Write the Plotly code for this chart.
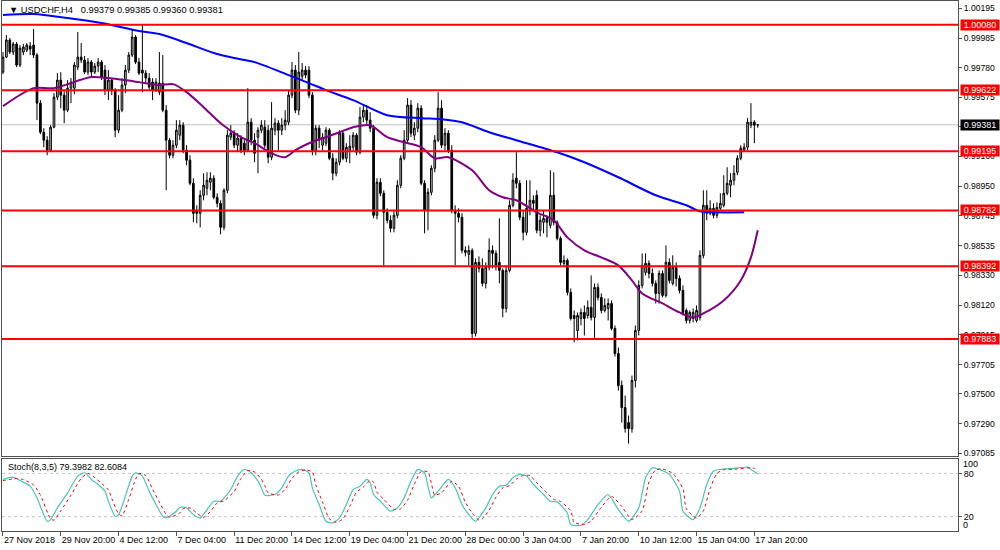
import plotly.graph_objects as go

# ---------------- DATA (USDCHF H4) ----------------
opens = [
0.99749,0.99854,0.99973,0.99889,0.99945,0.99798,0.99889,0.99903,0.99931,0.99938,
0.99868,0.99532,0.99329,0.99273,0.99203,0.99364,0.99574,0.99693,0.99588,0.99483,
0.99637,0.99637,0.99784,0.99854,0.99833,0.99749,0.99819,0.99749,0.99791,0.99819,
0.99763,0.99623,0.99693,0.99623,0.99343,0.99483,0.99658,0.99763,0.99868,0.99994,
0.99819,0.99763,0.99742,0.99707,0.99679,0.99623,0.99609,0.99672,0.99483,0.99273,
0.99168,0.99238,0.99308,0.99378,0.99203,0.99133,0.98972,0.98783,0.98762,0.98888,
0.98937,0.98979,0.99007,0.98874,0.98832,0.98664,0.98923,0.99294,0.99322,0.99238,
0.99287,0.99252,0.99203,0.99399,0.99273,0.99294,0.99343,0.99364,0.99343,0.99154,
0.99343,0.99392,0.99343,0.99378,0.99399,0.99588,0.99763,0.99483,0.99721,0.99763,
0.99763,0.99588,0.99203,0.99357,0.99238,0.99252,0.99343,0.99147,0.99042,0.99119,
0.99322,0.99147,0.99203,0.99224,0.99308,0.99189,0.99434,0.99483,0.99413,0.99357,
0.98748,0.98979,0.98902,0.98769,0.98713,0.98657,0.98748,0.98958,0.99147,0.99273,
0.99518,0.99308,0.99357,0.99497,0.98972,0.98783,0.98909,0.99077,0.99273,0.99497,
0.99238,0.99322,0.99203,0.98783,0.98762,0.98734,0.98503,0.98475,0.98503,0.97922,
0.98419,0.98377,0.98272,0.98384,0.98503,0.98482,0.98419,0.98363,0.98097,0.98363,
0.98818,0.99007,0.98972,0.98734,0.98629,0.98797,0.98853,0.98888,0.98643,0.98699,
0.98727,0.98678,0.98888,0.98699,0.98587,0.98412,0.98433,0.98209,0.98048,0.97943,
0.98027,0.98069,0.98048,0.98104,0.98034,0.98244,0.98174,0.98083,0.98097,0.98132,
0.97957,0.97782,0.97558,0.97404,0.97299,0.97257,0.97593,0.97943,0.98258,0.98349,
0.98412,0.98342,0.98272,0.98202,0.98342,0.98188,0.98419,0.98272,0.98384,0.98307,
0.98223,0.98083,0.98013,0.98027,0.98013,0.98034,0.98468,0.98818,0.98762,0.98797,
0.98748,0.98797,0.98818,0.98902,0.98958,0.98993,0.99049,0.99147,0.99203,0.99224,
0.99378,0.99399,0.99379]

highs = [
0.99889,1.00008,0.99987,0.99959,0.99959,0.99938,0.99945,0.99952,0.99959,1.00050,
0.99882,0.99553,0.99357,0.99301,0.99378,0.99602,0.99742,0.99749,0.99623,0.99693,
0.99707,0.99819,1.00029,0.99952,0.99861,0.99847,0.99833,0.99812,0.99847,0.99833,
0.99798,0.99763,0.99707,0.99637,0.99588,0.99707,0.99798,0.99889,1.00043,1.00008,
0.99847,1.00078,0.99763,0.99742,0.99707,0.99707,0.99889,0.99868,0.99518,0.99287,
0.99273,0.99413,0.99413,0.99399,0.99238,0.99168,0.99007,0.98818,0.98923,0.99042,
0.99049,0.99049,0.99028,0.98902,0.98853,0.98937,0.99343,0.99378,0.99343,0.99322,
0.99308,0.99273,0.99637,0.99427,0.99322,0.99364,0.99413,0.99413,0.99378,0.99539,
0.99427,0.99413,0.99427,0.99483,0.99623,0.99819,0.99798,0.99889,0.99812,0.99791,
0.99791,0.99609,0.99378,0.99378,0.99322,0.99364,0.99357,0.99182,0.99147,0.99343,
0.99343,0.99252,0.99308,0.99329,0.99322,0.99504,0.99518,0.99518,0.99469,0.99378,
0.99007,0.99007,0.98923,0.98797,0.98748,0.98783,0.98993,0.99168,0.99343,0.99567,
0.99553,0.99399,0.99532,0.99518,0.98993,0.98937,0.99098,0.99308,0.99609,0.99553,
0.99357,0.99343,0.99238,0.98818,0.98797,0.98762,0.98531,0.98538,0.98517,0.98447,
0.98461,0.98447,0.98419,0.98587,0.98538,0.98503,0.98727,0.98377,0.98398,0.98853,
0.99042,0.99189,0.98993,0.98783,0.98993,0.98993,0.98888,0.98923,0.98748,0.98783,
0.98748,0.99063,0.99049,0.98713,0.98601,0.98468,0.98447,0.98237,0.98083,0.98069,
0.98097,0.98118,0.98153,0.98328,0.98272,0.98272,0.98202,0.98167,0.98167,0.98153,
0.97978,0.97824,0.97593,0.97488,0.97348,0.97628,0.97978,0.98293,0.98482,0.98482,
0.98433,0.98377,0.98293,0.98363,0.98363,0.98538,0.98447,0.98468,0.98419,0.98328,
0.98258,0.98097,0.98083,0.98097,0.98118,0.98503,0.98923,0.98923,0.98853,0.98832,
0.98839,0.98902,0.99028,0.99084,0.99042,0.99098,0.99168,0.99238,0.99252,0.99427,
0.99532,0.99413,0.99385]

lows = [
0.99735,0.99847,0.99875,0.99868,0.99784,0.99784,0.99868,0.99889,0.99868,0.99847,
0.99413,0.99315,0.99224,0.99168,0.99189,0.99357,0.99553,0.99497,0.99392,0.99469,
0.99532,0.99595,0.99763,0.99812,0.99735,0.99728,0.99721,0.99735,0.99749,0.99693,
0.99588,0.99553,0.99588,0.99294,0.99322,0.99469,0.99602,0.99742,0.99854,0.99805,
0.99728,0.99609,0.99679,0.99630,0.99553,0.99609,0.99588,0.99469,0.98923,0.99147,
0.99147,0.99217,0.99273,0.99182,0.99098,0.98958,0.98699,0.98692,0.98664,0.98853,
0.98888,0.98923,0.98860,0.98804,0.98615,0.98643,0.98902,0.99273,0.99217,0.99189,
0.99182,0.99168,0.99189,0.99238,0.99119,0.99042,0.99322,0.99217,0.99112,0.99133,
0.99308,0.99203,0.99308,0.99343,0.99378,0.99567,0.99462,0.99448,0.99693,0.99707,
0.99567,0.99168,0.99168,0.99217,0.99203,0.99231,0.99133,0.98993,0.99021,0.99098,
0.99133,0.99119,0.99112,0.99203,0.99168,0.99175,0.99399,0.99378,0.99329,0.98727,
0.98720,0.98881,0.98398,0.98692,0.98629,0.98629,0.98727,0.98937,0.99133,0.99259,
0.99294,0.99273,0.99329,0.98958,0.98622,0.98643,0.98888,0.99049,0.99259,0.99217,
0.99203,0.99182,0.98762,0.98398,0.98699,0.98482,0.98461,0.98398,0.97887,0.97901,
0.98349,0.98251,0.98237,0.98363,0.98377,0.98363,0.98272,0.98034,0.98069,0.98349,
0.98804,0.98937,0.98713,0.98573,0.98608,0.98748,0.98783,0.98622,0.98601,0.98622,
0.98594,0.98657,0.98678,0.98573,0.98398,0.98391,0.98188,0.98013,0.97859,0.97873,
0.97978,0.97908,0.98027,0.98013,0.97887,0.98153,0.98062,0.98069,0.98013,0.97943,
0.97761,0.97523,0.97299,0.97229,0.97152,0.97229,0.97544,0.97908,0.98237,0.98328,
0.98307,0.98251,0.98132,0.98132,0.98174,0.98174,0.98272,0.98258,0.98251,0.98202,
0.98048,0.97992,0.97992,0.97999,0.97999,0.98013,0.98447,0.98713,0.98748,0.98727,
0.98727,0.98783,0.98804,0.98888,0.98874,0.98958,0.99028,0.99133,0.99189,0.99203,
0.99357,0.99252,0.99360]

closes = [
0.99854,0.99973,0.99889,0.99945,0.99798,0.99917,0.99924,0.99938,0.99910,0.99868,
0.99532,0.99329,0.99273,0.99203,0.99364,0.99574,0.99693,0.99588,0.99483,0.99637,
0.99679,0.99798,0.99854,0.99833,0.99749,0.99819,0.99749,0.99791,0.99819,0.99714,
0.99623,0.99693,0.99623,0.99343,0.99483,0.99658,0.99763,0.99868,0.99994,0.99819,
0.99742,0.99742,0.99707,0.99644,0.99623,0.99679,0.99672,0.99483,0.99273,0.99168,
0.99238,0.99343,0.99378,0.99203,0.99133,0.98972,0.98762,0.98762,0.98888,0.98958,
0.98993,0.99007,0.98874,0.98832,0.98664,0.98923,0.99308,0.99322,0.99238,0.99287,
0.99203,0.99203,0.99399,0.99273,0.99182,0.99343,0.99378,0.99238,0.99154,0.99357,
0.99392,0.99343,0.99378,0.99413,0.99588,0.99763,0.99483,0.99749,0.99763,0.99728,
0.99588,0.99203,0.99357,0.99273,0.99294,0.99343,0.99147,0.99042,0.99119,0.99322,
0.99147,0.99224,0.99231,0.99308,0.99189,0.99434,0.99483,0.99413,0.99357,0.98748,
0.98979,0.98902,0.98769,0.98713,0.98657,0.98748,0.98958,0.99147,0.99273,0.99518,
0.99322,0.99357,0.99497,0.98972,0.98783,0.98909,0.99077,0.99273,0.99497,0.99238,
0.99322,0.99203,0.98783,0.98762,0.98734,0.98503,0.98489,0.98503,0.97922,0.98419,
0.98377,0.98272,0.98384,0.98503,0.98482,0.98398,0.98363,0.98097,0.98363,0.98818,
0.98993,0.98972,0.98734,0.98629,0.98797,0.98853,0.98832,0.98643,0.98713,0.98727,
0.98699,0.98888,0.98699,0.98587,0.98419,0.98433,0.98209,0.98027,0.98027,0.98048,
0.98069,0.98027,0.98104,0.98034,0.98244,0.98174,0.98083,0.98118,0.98132,0.97957,
0.97782,0.97558,0.97404,0.97257,0.97257,0.97593,0.97943,0.98258,0.98398,0.98412,
0.98342,0.98272,0.98202,0.98342,0.98188,0.98419,0.98293,0.98384,0.98307,0.98223,
0.98069,0.98013,0.98069,0.98069,0.98083,0.98468,0.98818,0.98762,0.98797,0.98748,
0.98804,0.98832,0.98902,0.98972,0.98993,0.99042,0.99147,0.99217,0.99224,0.99399,
0.99399,0.99378,0.99381]

# moving averages (at selected bars)
ma_blue_bar = [0, 9, 19, 29, 40, 46, 54, 62, 68, 74, 84, 90, 95, 103, 113, 123, 129, 135,
               143, 151, 163, 171, 181, 192, 201, 205, 210, 218]
ma_blue = [1.00148, 1.00155, 1.00127, 1.00092, 1.00036, 1.00015, 0.99952, 0.99882, 0.99847,
           0.99819, 0.99728, 0.99672, 0.99623, 0.99553, 0.99448, 0.99427, 0.99420, 0.99399,
           0.99329, 0.99273, 0.99189, 0.99119, 0.99014, 0.98888, 0.98818, 0.98776, 0.98769,
           0.98769]

ma_purple_bar = [0, 9, 15, 26, 31, 40, 46, 50, 54, 59, 64, 70, 74, 79, 83, 86, 90, 95, 99, 103,
                 108, 113, 118, 123, 127, 131, 138, 143, 147, 151, 157, 162, 166, 171, 176, 181,
                 185, 188, 194, 199, 203, 206, 212, 217, 220, 222]
ma_purple = [0.99511, 0.99637, 0.99637, 0.99714, 0.99707, 0.99679, 0.99658, 0.99665, 0.99609,
             0.99504, 0.99392, 0.99294, 0.99252, 0.99182, 0.99154, 0.99203, 0.99252, 0.99294,
             0.99329, 0.99364, 0.99378, 0.99294, 0.99259, 0.99224, 0.99147, 0.99154, 0.99063,
             0.98923, 0.98874, 0.98853, 0.98769, 0.98713, 0.98594, 0.98503, 0.98454, 0.98398,
             0.98293, 0.98202, 0.98132, 0.98069, 0.98034, 0.98062, 0.98153, 0.98293, 0.98454,
             0.98643]

# stochastic (8,3,5)
stoch_k_bar = [0,3,5,8,10,13,14,16,19,22,24,26,28,30,31,33,34,36,38,39,41,43,45,47,48,51,52,54,56,58,
               60,62,64,67,69,71,73,75,76,77,80,82,84,86,88,90,91,93,95,97,99,101,103,105,107,108,109,
               111,114,116,118,120,122,124,125,126,128,131,133,135,137,139,140,142,144,146,148,150,152,
               154,156,159,161,163,166,167,170,172,175,178,181,184,187,189,191,193,196,199,200,203,205,
               207,209,211,215,219,220,222]
stoch_k = [71.6,74.9,70.2,62.3,46.1,13.5,15.8,32.1,53.0,76.3,80.9,71.6,64.7,55.4,41.4,20.5,22.8,48.4,
           76.3,80.9,76.3,55.4,36.8,20.5,18.2,27.5,33.0,32.1,22.8,18.2,29.8,41.4,41.4,57.7,76.3,85.6,
           80.9,69.3,60.0,49.8,50.7,60.0,76.3,83.3,85.6,80.9,60.0,36.8,13.5,11.2,18.2,36.8,57.7,62.3,
           71.6,67.0,50.7,41.4,27.5,32.1,46.1,69.3,85.6,80.9,62.3,46.1,55.4,71.6,60.0,36.8,22.8,13.5,
           18.2,32.1,50.7,62.3,63.7,74.0,78.6,76.3,64.7,50.7,41.4,40.5,25.1,8.9,7.9,15.8,36.8,50.7,
           29.8,13.5,32.1,74.0,87.9,85.6,78.6,55.4,27.5,15.8,32.1,64.7,83.3,85.6,87.0,88.8,85.6,79.4]
stoch_d_bar = [0,4,6,9,11,14,15,17,20,23,25,27,29,31,32,34,35,37,39,40,42,44,46,48,49,52,53,55,57,59,
               61,63,65,68,70,72,74,76,77,78,81,83,85,87,89,91,92,94,96,98,100,102,104,106,108,109,110,
               112,115,117,119,121,123,125,126,127,129,132,134,136,138,140,141,143,145,147,149,151,153,
               155,157,160,162,164,167,168,171,173,176,179,182,185,188,190,192,194,197,200,201,204,206,
               208,210,212,216,220,221,222]
stoch_d = [70,73,71.5,64,50,17,15,28,50,73,80,74,66,57,45,24,21,44,72,80,77,58,40,23,19,25,31,32,25,19,
           27,39,42,55,73,84,82,72,63,53,50,58,73,82,85,82,64,40,17,12,17,34,54,61,70,68,54,44,30,31,
           43,65,83,82,66,50,53,69,62,40,25,15,17,29,47,60,63,72,77,77,67,53,44,41,28,12,9,14,33,48,
           34,16,28,68,85,86,80,59,31,18,28,59,80,85,86,88,87,82.6]

# horizontal levels
levels = [1.00080, 0.99622, 0.99195, 0.98782, 0.98392, 0.97883]
level_text = ["1.00080", "0.99622", "0.99195", "0.98782", "0.98392", "0.97883"]
last_price = 0.99381

# axes ticks
price_ticks = [1.00195, 0.99985, 0.99780, 0.99575, 0.99370, 0.99160, 0.98950, 0.98745, 0.98535,
               0.98330, 0.98120, 0.97915, 0.97705, 0.97500, 0.97290, 0.97085]
time_tick_bar = [0, 17, 34, 51, 68, 85, 102, 119, 136, 153, 170, 187, 204, 221]
time_tick_text = ["27 Nov 2018", "29 Nov 20:00", "4 Dec 12:00", "7 Dec 04:00", "11 Dec 20:00",
                  "14 Dec 12:00", "19 Dec 04:00", "21 Dec 20:00", "28 Dec 00:00", "3 Jan 04:00",
                  "7 Jan 20:00", "10 Jan 12:00", "15 Jan 04:00", "17 Jan 20:00"]

# ---------------- FIGURE ----------------
FONT = "Liberation Sans, Arial, sans-serif"
FS = 9
bars = list(range(len(closes)))

fig = go.Figure()
fig.add_trace(go.Candlestick(
    x=bars, open=opens, high=highs, low=lows, close=closes,
    increasing=dict(line=dict(color="#000000", width=1), fillcolor="#C8C8C8"),
    decreasing=dict(line=dict(color="#000000", width=1), fillcolor="#000000"),
    whiskerwidth=0, showlegend=False, hoverinfo="skip", xaxis="x", yaxis="y"))
fig.add_trace(go.Scatter(x=ma_blue_bar, y=ma_blue, mode="lines",
                         line=dict(color="#0000FF", width=2, shape="spline", smoothing=0.8),
                         hoverinfo="skip", xaxis="x", yaxis="y"))
fig.add_trace(go.Scatter(x=ma_purple_bar, y=ma_purple, mode="lines",
                         line=dict(color="#800080", width=2, shape="spline", smoothing=0.8),
                         hoverinfo="skip", xaxis="x", yaxis="y"))
fig.add_trace(go.Scatter(x=stoch_k_bar, y=stoch_k, mode="lines",
                         line=dict(color="#48C4BC", width=1.2, shape="spline", smoothing=0.6),
                         hoverinfo="skip", xaxis="x2", yaxis="y2"))
fig.add_trace(go.Scatter(x=stoch_d_bar, y=stoch_d, mode="lines",
                         line=dict(color="#FF0000", width=1, dash="dot", shape="spline", smoothing=0.6),
                         hoverinfo="skip", xaxis="x2", yaxis="y2"))

shapes = []
shapes.append(dict(type="line", xref="paper", x0=0, x1=1, yref="y", y0=last_price, y1=last_price,
                   line=dict(color="#C0C0C0", width=1), layer="below"))
for lv in levels:
    shapes.append(dict(type="line", xref="paper", x0=0, x1=1, yref="y", y0=lv, y1=lv,
                       line=dict(color="#FF0000", width=2), layer="above"))
for lv in (80, 20):
    shapes.append(dict(type="line", xref="paper", x0=0, x1=1, yref="y2", y0=lv, y1=lv,
                       line=dict(color="#C8C8C8", width=1, dash="dot"), layer="below"))

annotations = []
for lv, txt in zip(levels, level_text):
    annotations.append(dict(xref="paper", x=1, xanchor="left", xshift=2, yref="y", y=lv,
                            yanchor="middle", text=txt, showarrow=False, bgcolor="#FF0000",
                            font=dict(family=FONT, size=FS, color="#FFFFFF"),
                            width=38, height=10, borderpad=0, align="center"))
annotations.append(dict(xref="paper", x=1, xanchor="left", xshift=2, yref="y", y=last_price,
                        yanchor="middle", text="0.99381", showarrow=False, bgcolor="#000000",
                        font=dict(family=FONT, size=FS, color="#FFFFFF"),
                        width=38, height=10, borderpad=0, align="center"))
annotations.append(dict(xref="paper", x=0.0052, xanchor="left", yref="paper", y=0.983,
                        yanchor="middle", showarrow=False,
                        text="\u25BC USDCHF,H4\u00a0\u00a0 0.99379 0.99385 0.99360 0.99381",
                        font=dict(family=FONT, size=9.3, color="#000000")))
annotations.append(dict(xref="paper", x=0.0042, xanchor="left", yref="paper", y=0.1208,
                        yanchor="middle", showarrow=False,
                        text="Stoch(8,3,5) 79.3982 82.6084",
                        font=dict(family=FONT, size=FS, color="#000000")))
annotations.append(dict(xref="paper", x=1, xanchor="left", xshift=3, yref="paper", y=0.1264,
                        yanchor="middle", showarrow=False, text="100",
                        font=dict(family=FONT, size=FS, color="#000000")))
annotations.append(dict(xref="paper", x=1, xanchor="left", xshift=3, yref="paper", y=0.0113,
                        yanchor="middle", showarrow=False, text="0",
                        font=dict(family=FONT, size=FS, color="#000000")))

XR = [-0.29, 280.9]
LINE = "#505050"
fig.update_layout(
    width=1000, height=550,
    margin=dict(l=2, r=42, t=1, b=19, autoexpand=False),
    paper_bgcolor="#FFFFFF", plot_bgcolor="#FFFFFF",
    showlegend=False, hovermode=False,
    font=dict(family=FONT, size=FS, color="#000000"),
    shapes=shapes, annotations=annotations,
    xaxis=dict(domain=[0, 1], anchor="y", range=XR, showticklabels=False, ticks="",
               showgrid=False, zeroline=False, showline=True, mirror=True, linecolor=LINE,
               rangeslider=dict(visible=False), automargin=False),
    yaxis=dict(domain=[0.1415, 1], anchor="x", range=[0.970656, 1.00246], side="right",
               tickvals=price_ticks, ticktext=["%.5f" % t for t in price_ticks],
               ticks="outside", ticklen=3, tickcolor=LINE, automargin=False,
               tickfont=dict(family=FONT, size=8.6, color="#000000"),
               showgrid=False, zeroline=False, showline=True, mirror=True, linecolor=LINE),
    xaxis2=dict(domain=[0, 1], anchor="y2", range=XR, tickvals=time_tick_bar,
                ticktext=time_tick_text, ticks="outside", ticklen=4, tickcolor=LINE,
                ticklabelposition="outside right", tickangle=0, automargin=False,
                tickfont=dict(family=FONT, size=FS, color="#000000"),
                showgrid=False, zeroline=False, showline=True, mirror=True, linecolor=LINE),
    yaxis2=dict(domain=[0, 0.1358], anchor="x2", range=[0, 100], side="right",
                tickvals=[80, 20], ticktext=["80", "20"], ticks="outside", ticklen=3,
                tickcolor=LINE, tickfont=dict(family=FONT, size=FS, color="#000000"),
                automargin=False,
                showgrid=False, zeroline=False, showline=True, mirror=True, linecolor=LINE),
)

fig.write_html("out.html", config={"displayModeBar": False},
               post_script="document.body.style.margin='0';")
